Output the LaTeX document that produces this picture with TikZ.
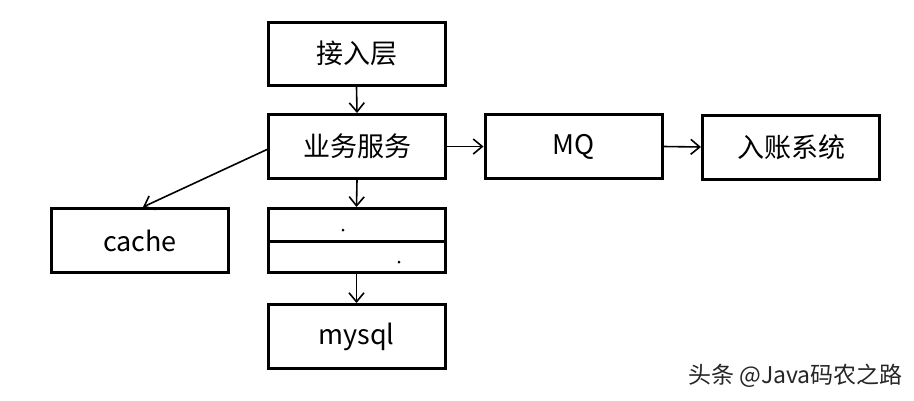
\documentclass[tikz,border=0pt]{standalone}
\usepackage{fontspec}
\setmainfont{Noto Sans CJK SC}
\usetikzlibrary{arrows.meta}
\begin{document}
\begin{tikzpicture}[x=1pt,y=-1pt,
  box/.style={draw=black,line width=3pt,fill=white,inner sep=0pt,minimum width=177pt,minimum height=64pt,font=\fontsize{27}{30}\selectfont},
  half/.style={draw=black,line width=3pt,inner sep=0pt,minimum width=177pt},
  conn/.style={line width=1.6pt,-{Straight Barb[length=9pt,width=15pt,line width=1.6pt]}},
  dotmark/.style={circle,fill=black,inner sep=0pt,minimum size=3pt}
]
\useasboundingbox (0,0) rectangle (914,400);
\fill[white] (0,0) rectangle (914,400);
\node[box,minimum height=63pt] (jieru) at (356.5,53.5) {接入层};
\node[box] (yewu) at (357,146.5) {业务服务};
\node[box] (mq) at (573.5,146.5) {MQ};
\node[box] (ruzhang) at (791,147) {入账系统};
\node[box] (cache) at (140,240.5) {cache};
\node[half,minimum height=32.5pt] (stacktop) at (356.5,224.75) {};
\node[half,minimum height=31.5pt] (stackbot) at (356.5,256.75) {};
\node[dotmark] (dota) at (343,230) {};
\node[dotmark] (dotb) at (399,262) {};
\node[box] (mysql) at (356.5,336.5) {mysql};
\draw[conn] (jieru.south) -- (yewu.north);
\draw[conn] (yewu.south) -- (stacktop.north);
\draw[conn] (stackbot.south) -- (mysql.north);
\draw[conn] (yewu.east) -- (mq.west);
\draw[conn] (mq.east) -- (ruzhang.west);
\draw[conn] ([yshift=-3pt]yewu.west) -- ([xshift=3pt]cache.north);
\node[text=black!85,font=\fontsize{23}{25}\selectfont,anchor=east,inner sep=0pt] (wm) at (903,376) {头条 @Java码农之路};
\end{tikzpicture}
\end{document}
